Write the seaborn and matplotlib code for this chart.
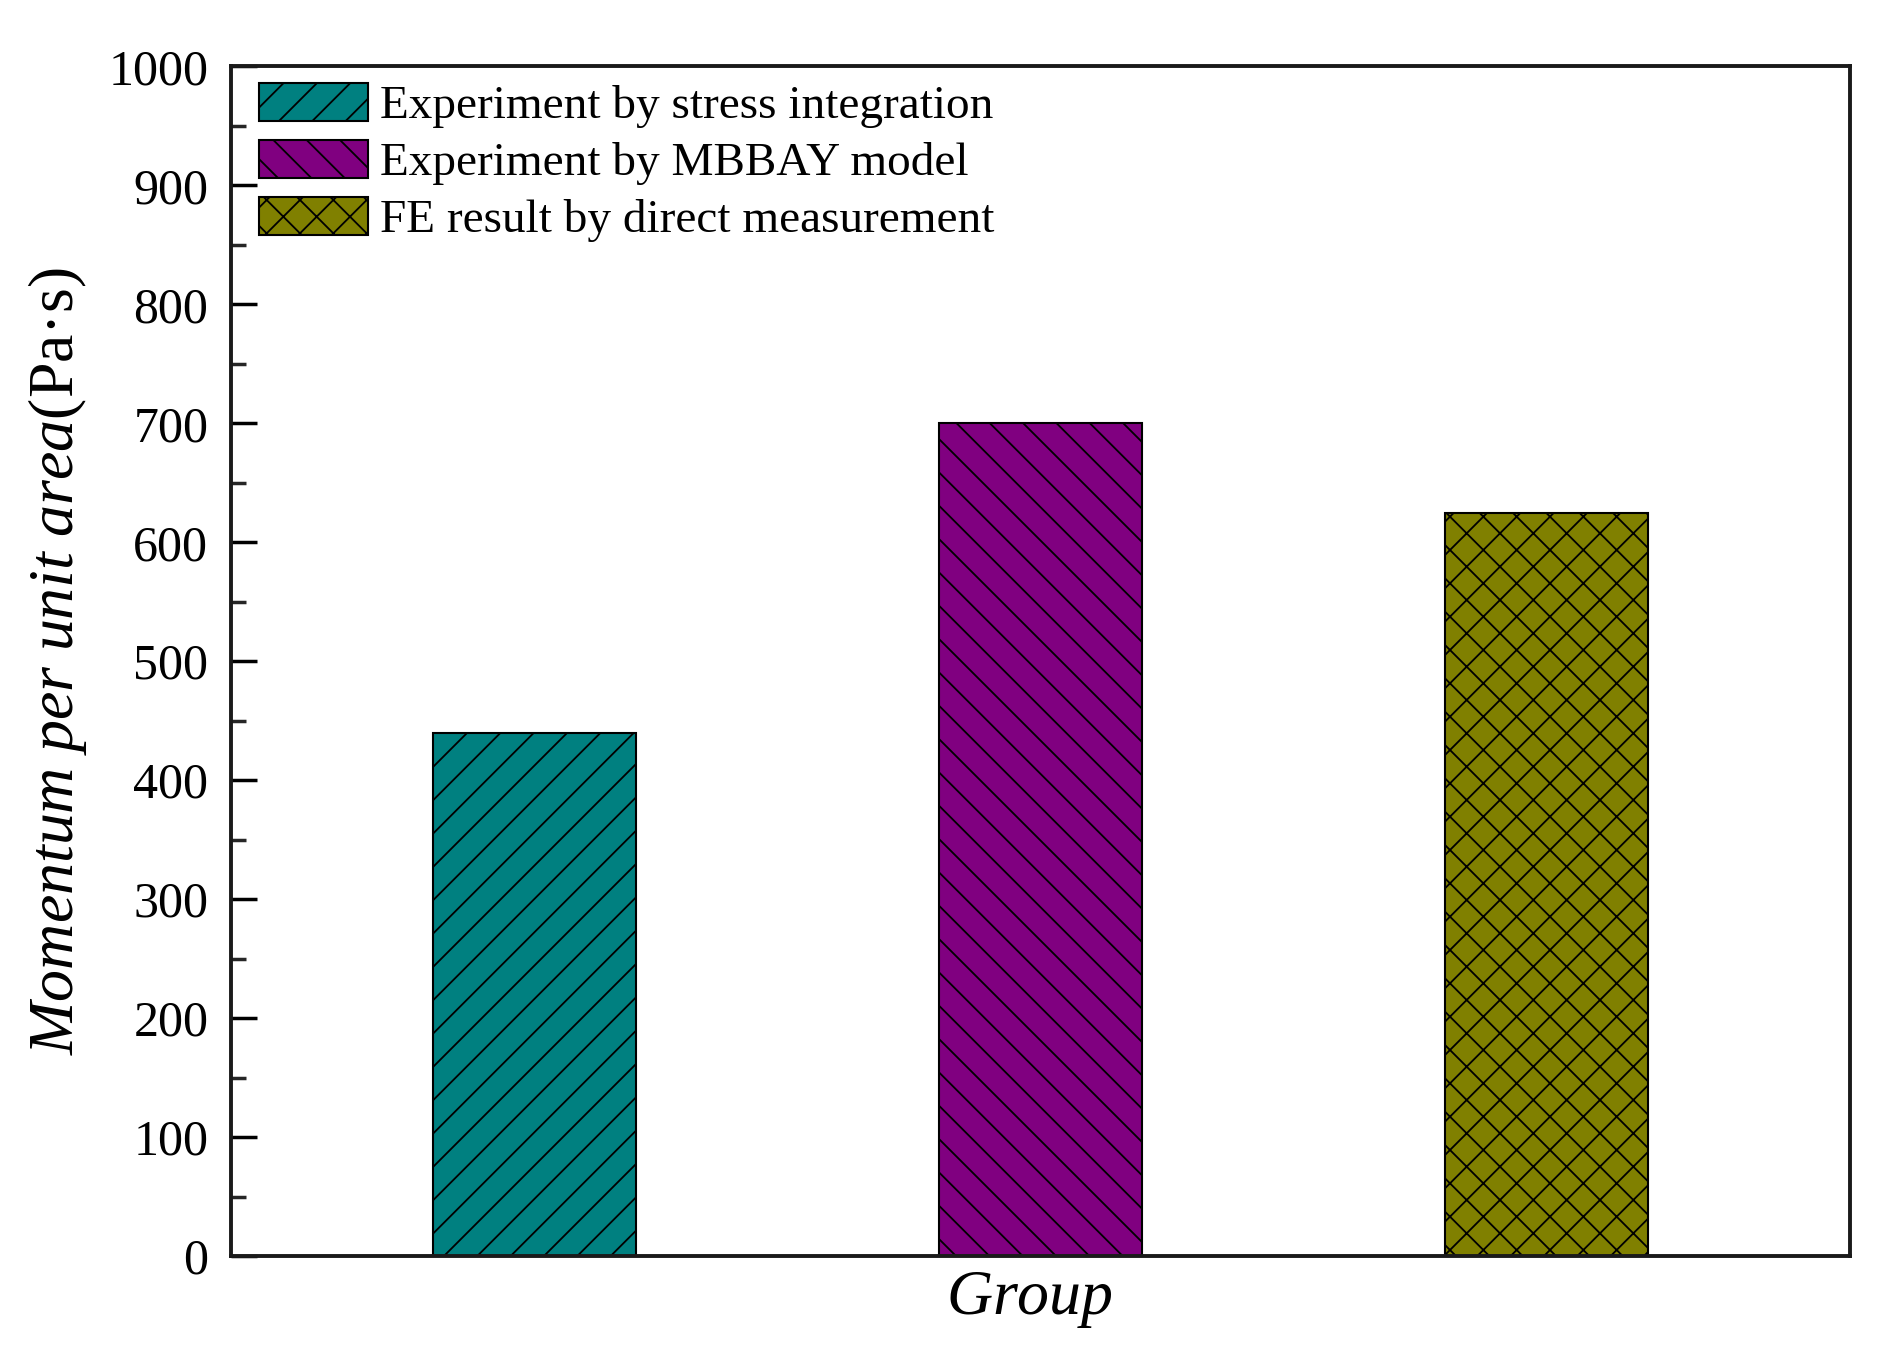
import numpy as np
import pandas as pd
import seaborn as sns
import matplotlib.pyplot as plt
from matplotlib.patches import Patch
from matplotlib.ticker import MultipleLocator

groups = ["Experiment by stress integration",
          "Experiment by MBBAY model",
          "FE result by direct measurement"]
momentum = [440, 700, 625]
colors = ["#008080", "#800080", "#808000"]
hatches = ["/", "\\", "x"]

df = pd.DataFrame({"group": groups, "momentum": momentum})

sns.set_style("ticks")
plt.rcParams["font.family"] = ["Liberation Serif", "DejaVu Serif"]
plt.rcParams["mathtext.fontset"] = "custom"
plt.rcParams["mathtext.it"] = "Liberation Serif:italic"
plt.rcParams["mathtext.rm"] = "Liberation Serif"
plt.rcParams["hatch.linewidth"] = 1.3
plt.rcParams["hatch.color"] = "black"

fig = plt.figure(figsize=(18.9, 13.55), dpi=100)
ax = fig.add_axes([0.122, 0.073, 0.857, 0.878])

sns.barplot(data=df, x="group", y="momentum", hue="group", palette=colors,
            saturation=1, width=0.4, edgecolor="black", linewidth=1.5,
            legend=False, ax=ax)

for bar, h in zip(ax.patches, hatches):
    bar.set_hatch(h)

ax.set_xlim(-0.6, 2.6)
ax.set_ylim(0, 1000)
ax.yaxis.set_major_locator(MultipleLocator(100))
ax.yaxis.set_minor_locator(MultipleLocator(50))
ax.tick_params(axis="y", which="major", direction="in", length=19, width=2.5,
               labelsize=36, pad=16, colors="black")
ax.tick_params(axis="y", which="minor", direction="in", length=11, width=2.5)
ax.tick_params(axis="x", bottom=False, labelbottom=False)

for s in ax.spines.values():
    s.set_linewidth(2.8)
    s.set_color("#1a1a1a")

ax.set_xlabel(r"$\mathit{Group}$", fontsize=46, color="black")
ax.xaxis.set_label_coords(0.493, -0.012, transform=ax.transAxes)
ax.xaxis.label.set_va("top")
ax.set_ylabel(r"$\mathit{Momentum\ per\ unit\ area}$(Pa·s)", fontsize=46,
              labelpad=14, color="black")

handles = [Patch(facecolor=c, edgecolor="black", hatch=h, linewidth=1.5)
           for c, h in zip(colors, hatches)]
ax.legend(handles, groups, loc="upper left", bbox_to_anchor=(0.0075, 1.0),
          frameon=False, fontsize=34, handlelength=2.3, handleheight=0.85,
          handletextpad=0.25, labelspacing=0.25, borderpad=0.15,
          borderaxespad=0.2, labelcolor="black")

fig.savefig("out.png", dpi=100)
